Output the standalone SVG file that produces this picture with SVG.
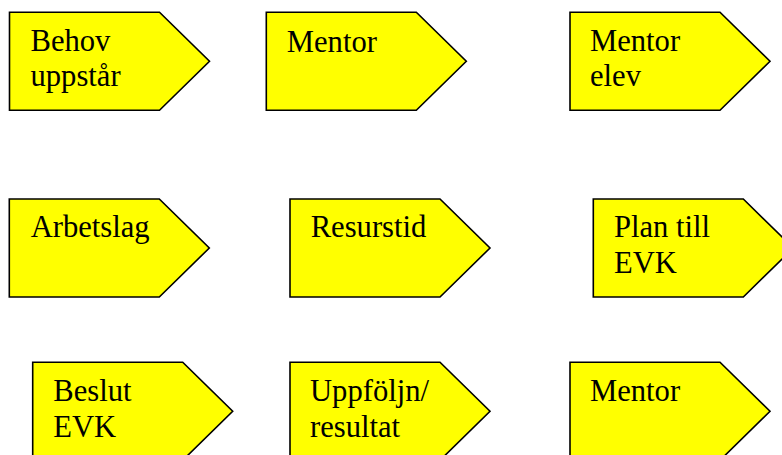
<svg xmlns="http://www.w3.org/2000/svg" width="782" height="455" viewBox="0 0 782 455">
<defs>
<style>
.shape{fill:#ffff00;stroke:#000;stroke-width:1.6;stroke-linejoin:miter}
.lbl{font-family:"Liberation Serif","Times New Roman",serif;font-size:30.6px;fill:#000}
</style>
<path id="pent" class="shape" d="M0,0 H150 L200,49 L150,98 H0 Z"/>
</defs>
<rect width="782" height="455" fill="#fff"/>
<g id="connectors"></g>
<g id="n1" transform="translate(9.5,12.3)"><use href="#pent"/><text class="lbl" x="21" y="38.5">Behov</text><text class="lbl" x="21" y="74">uppstår</text></g>
<g id="n2" transform="translate(266.3,12.3)"><use href="#pent"/><text class="lbl" x="20.5" y="40">Mentor</text></g>
<g id="n3" transform="translate(570,12.3)"><use href="#pent"/><text class="lbl" x="20" y="38.5">Mentor</text><text class="lbl" x="20" y="74">elev</text></g>
<g id="n4" transform="translate(9.3,199)"><use href="#pent"/><text class="lbl" x="21.4" y="38.3">Arbetslag</text></g>
<g id="n5" transform="translate(290,199)"><use href="#pent"/><text class="lbl" x="20.7" y="38.3">Resurstid</text></g>
<g id="n6" transform="translate(593.3,199)"><use href="#pent"/><text class="lbl" x="20.7" y="38.3">Plan till</text><text class="lbl" x="20.7" y="74.3">EVK</text></g>
<g id="n7" transform="translate(32.7,362.3)"><use href="#pent"/><text class="lbl" x="20.6" y="38.4">Beslut</text><text class="lbl" x="20.6" y="75">EVK</text></g>
<g id="n8" transform="translate(290,362.3)"><use href="#pent"/><text class="lbl" x="20" y="38.4">Uppföljn/</text><text class="lbl" x="20" y="75">resultat</text></g>
<g id="n9" transform="translate(570,362.3)"><use href="#pent"/><text class="lbl" x="20" y="39">Mentor</text></g>
</svg>
